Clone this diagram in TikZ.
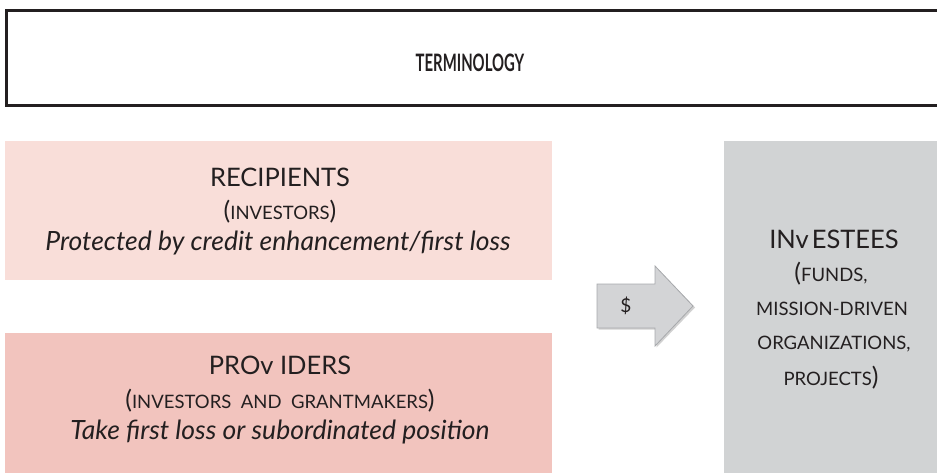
\documentclass[tikz,border=0pt]{standalone}
\usepackage{fontspec}
\setmainfont{Lato}
\definecolor{ink}{HTML}{231F20}
\definecolor{pinklight}{HTML}{F9DED9}
\definecolor{pinkdark}{HTML}{F2C4BE}
\definecolor{boxgray}{HTML}{D1D3D4}
\definecolor{arrowfill}{HTML}{D3D4D6}
\definecolor{arrowline}{HTML}{A7A9AC}
\newcommand\mysc[1]{{\fontsize{18.5}{20}\selectfont\MakeUppercase{#1}}}
\tikzset{
  panel/.style={anchor=north west, inner sep=0pt, draw=none},
  headtxt/.style={text=ink, font=\fontsize{25.5}{28}\selectfont, inner sep=0pt},
  subtxt/.style={text=ink, font=\fontsize{25}{28}\selectfont, inner sep=0pt},
  ittxt/.style={text=ink, font=\fontsize{26.5}{29}\selectfont\itshape, inner sep=0pt},
}
\begin{document}
\begin{tikzpicture}[x=1pt,y=-1pt]
\useasboundingbox (0,0) rectangle (937,472);
\clip (0,0) rectangle (937,472);
% title box
\node[panel, draw=ink, line width=3pt, minimum width=960pt, minimum height=95pt] (titlebox) at (4.5,8.5) {};
\node[text=ink, inner sep=0pt] (title) at (470,63) {\scalebox{0.62}[1]{\fontsize{24}{26}\selectfont\bfseries TERMINOLOGY}};
% panels
\node[panel, fill=pinklight, minimum width=547pt, minimum height=139pt] (rec) at (5,141) {};
\node[panel, fill=pinkdark, minimum width=547pt, minimum height=140pt] (prov) at (5,333) {};
\node[panel, fill=boxgray, minimum width=215pt, minimum height=333pt] (inv) at (724,141) {};
% recipients text
\node[headtxt] (recA) at (280,177) {RECIPIENTS};
\node[subtxt] (recB) at (280,212) {(\mysc{investors})};
\node[ittxt] (recC) at (278,243) {Protected by credit enhancement/first loss};
% providers text
\node[headtxt] (provA) at (280,365) {PROv IDERS};
\node[subtxt] (provB) at (280,401) {(\mysc{investors\ \ and\ \ grantmakers})};
\node[ittxt] (provC) at (280,432) {Take first loss or subordinated position};
% investees text
\node[headtxt] (invA) at (834,239) {INv\hspace{3pt}ESTEES};
\node[subtxt] (invB) at (831,274) {(\mysc{funds,}};
\node[subtxt] (invC) at (832,309) {\mysc{mission-driven}};
\node[subtxt] (invD) at (834,344) {\mysc{organizations,}};
\node[subtxt] (invE) at (831,378) {\mysc{projects})};
% arrow
\fill[black!18] (598.5,285.5) -- (656.5,285.5) -- (656.5,267.5) -- (695,307.5) -- (656.5,347.5) -- (656.5,329.5) -- (598.5,329.5) -- cycle;
\draw[fill=arrowfill, draw=arrowline, line width=0.8pt] (597,284) -- (655,284) -- (655,266) -- (693,306) -- (655,346) -- (655,328) -- (597,328) -- cycle;
\node[text=ink, inner sep=0pt, font=\fontsize{19}{20}\selectfont] (dollar) at (626,306) {\$};
\end{tikzpicture}
\end{document}
